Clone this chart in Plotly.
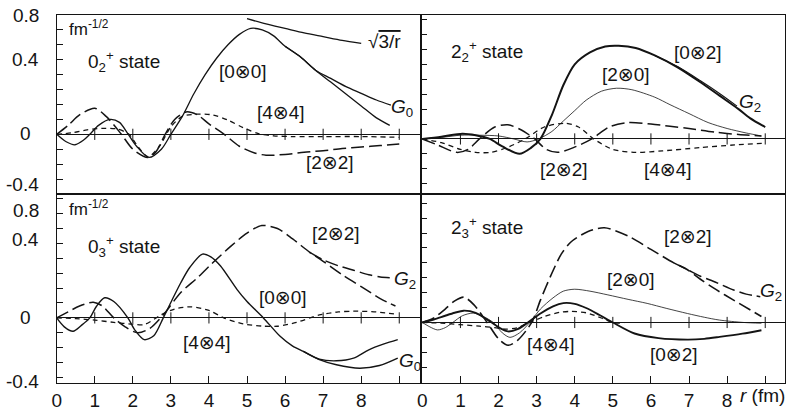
import plotly.graph_objects as go

# ---------------- data ----------------
# Top-left panel: 0_2+ state
tl_00_r = [0, 0.25, 0.48, 0.7, 0.87, 1.1, 1.4, 1.65, 1.88, 2.1, 2.42, 2.75, 3.0, 3.3, 3.6, 3.9, 4.2, 4.5, 4.8, 5.1, 5.4, 5.7, 6.0, 6.4, 6.8, 7.2, 7.6, 8.0, 8.4, 8.75]
tl_00_v = [0, -0.05, -0.07, -0.04, 0, 0.06, 0.10, 0.08, 0.0, -0.08, -0.155, -0.10, 0.0, 0.12, 0.27, 0.40, 0.51, 0.60, 0.67, 0.71, 0.70, 0.66, 0.59, 0.52, 0.43, 0.35, 0.27, 0.19, 0.11, 0.06]
tl_g0_r = [6.0, 6.4, 6.8, 7.2, 7.6, 8.0, 8.4, 8.78]
tl_g0_v = [0.59, 0.52, 0.43, 0.375, 0.32, 0.275, 0.23, 0.195]
tl_22_r = [0, 0.3, 0.6, 1.0, 1.3, 1.7, 2.0, 2.4, 2.6, 2.85, 3.1, 3.4, 3.7, 4.0, 4.4, 4.8, 5.2, 5.5, 6.0, 6.5, 7.0, 7.5, 8.0, 8.5, 9.0]
tl_22_v = [0, 0.06, 0.13, 0.175, 0.12, 0.0, -0.10, -0.155, -0.12, 0.0, 0.10, 0.15, 0.13, 0.07, 0.0, -0.08, -0.125, -0.14, -0.135, -0.12, -0.11, -0.095, -0.085, -0.075, -0.065]
tl_44_r = [0, 0.4, 0.8, 1.2, 1.6, 1.9, 2.1, 2.4, 2.7, 3.0, 3.3, 3.7, 4.1, 4.5, 4.9, 5.3, 5.7, 6.2, 7.0, 8.0, 9.0]
tl_44_v = [0, 0.01, 0.03, 0.04, 0.035, 0.0, -0.07, -0.15, -0.08, 0.05, 0.12, 0.135, 0.13, 0.095, 0.045, 0.005, -0.01, -0.015, -0.015, -0.015, -0.02]
tl_sq_r = [5.0, 5.5, 6.0, 6.5, 7.0, 7.5, 8.0]
tl_sq_v = [0.775, 0.74, 0.71, 0.68, 0.655, 0.63, 0.61]

# Top-right panel: 2_2+ state
tr_02_r = [0, 0.5, 1.05, 1.4, 1.77, 2.1, 2.55, 2.85, 3.1, 3.4, 3.7, 4.0, 4.4, 4.8, 5.15, 5.6, 6.1, 6.7, 7.3, 7.8, 8.3, 8.6, 9.0]
tr_02_v = [0, 0.015, 0.035, 0.025, 0.0, -0.05, -0.10, -0.06, 0.0, 0.16, 0.36, 0.50, 0.58, 0.62, 0.625, 0.61, 0.56, 0.48, 0.38, 0.29, 0.20, 0.14, 0.08]
tr_g2_r = [6.1, 6.7, 7.3, 7.8, 8.26]
tr_g2_v = [0.56, 0.485, 0.39, 0.305, 0.22]
tr_20_r = [0, 0.5, 1.0, 1.5, 2.0, 2.4, 2.75, 3.05, 3.4, 3.7, 4.0, 4.3, 4.7, 5.1, 5.5, 6.1, 6.5, 7.0, 7.5, 8.0, 8.5, 8.9]
tr_20_v = [0, 0.01, 0.025, 0.025, 0.02, 0.0, -0.02, 0.0, 0.05, 0.12, 0.19, 0.26, 0.32, 0.34, 0.33, 0.28, 0.23, 0.17, 0.11, 0.07, 0.04, 0.02]
tr_22_r = [0, 0.4, 0.9, 1.2, 1.5, 1.9, 2.25, 2.6, 2.95, 3.25, 3.55, 3.95, 4.45, 4.9, 5.4, 6.0, 6.5, 7.0, 7.7, 8.3, 8.9]
tr_22_v = [0, -0.04, -0.09, -0.07, 0.0, 0.08, 0.095, 0.06, 0.0, -0.07, -0.09, -0.06, 0.0, 0.08, 0.11, 0.10, 0.085, 0.07, 0.045, 0.03, 0.02]
tr_44_r = [0, 0.5, 1.0, 1.4, 1.8, 2.2, 2.7, 3.2, 3.75, 4.1, 4.5, 5.0, 5.6, 6.3, 7.3, 8.2, 9.0]
tr_44_v = [0, -0.025, -0.07, -0.09, -0.09, -0.06, 0.0, 0.08, 0.105, 0.08, 0.0, -0.07, -0.09, -0.08, -0.058, -0.04, -0.028]

# Bottom-left panel: 0_3+ state
bl_00_r = [0, 0.2, 0.43, 0.65, 0.87, 1.05, 1.26, 1.5, 1.87, 2.05, 2.3, 2.55, 2.8, 3.05, 3.26, 3.5, 3.83, 4.05, 4.3, 4.74, 5.0, 5.43, 5.87, 6.2, 6.48, 6.9, 7.35, 7.8, 8.2, 8.6, 8.96]
bl_00_v = [0, -0.06, -0.09, -0.05, 0.0, 0.08, 0.135, 0.11, 0.0, -0.08, -0.146, -0.12, 0.0, 0.13, 0.236, 0.34, 0.428, 0.41, 0.35, 0.19, 0.11, 0.0, -0.124, -0.19, -0.225, -0.277, -0.288, -0.27, -0.214, -0.175, -0.146]
bl_g0_r = [6.48, 6.9, 7.35, 7.96, 8.48, 8.96]
bl_g0_v = [-0.225, -0.28, -0.315, -0.338, -0.32, -0.27]
bl_22_r = [0, 0.3, 0.6, 0.96, 1.2, 1.5, 1.8, 2.13, 2.45, 2.8, 3.26, 3.7, 4.1, 4.57, 5.0, 5.39, 5.8, 6.2, 6.65, 7.0, 7.5, 8.0, 8.5, 8.9]
bl_22_v = [0, 0.04, 0.08, 0.105, 0.08, 0.0, -0.06, -0.10, -0.07, 0.02, 0.17, 0.27, 0.37, 0.48, 0.57, 0.62, 0.60, 0.53, 0.44, 0.38, 0.29, 0.21, 0.13, 0.08]
bl_g2_r = [6.65, 7.0, 7.4, 7.8, 8.2, 8.5, 8.75]
bl_g2_v = [0.44, 0.39, 0.35, 0.32, 0.29, 0.275, 0.27]
bl_44_r = [0, 0.5, 1.0, 1.5, 2.0, 2.3, 2.74, 3.1, 3.52, 4.0, 4.39, 4.9, 5.4, 5.8, 6.3, 6.9, 7.4, 7.8, 8.4, 8.96]
bl_44_v = [0, -0.005, -0.015, -0.03, -0.042, -0.045, 0.02, 0.06, 0.074, 0.05, 0.0, -0.04, -0.055, -0.056, -0.03, 0.02, 0.04, 0.045, 0.04, 0.023]

# Bottom-right panel: 2_3+ state
br_22_r = [0, 0.3, 0.6, 0.85, 1.09, 1.35, 1.7, 2.0, 2.25, 2.5, 2.87, 3.1, 3.4, 3.65, 3.9, 4.35, 4.78, 5.4, 6.0, 6.6, 6.96, 7.3, 7.65, 8.17, 8.9]
br_22_v = [0, 0.03, 0.09, 0.145, 0.17, 0.12, 0.0, -0.11, -0.153, -0.12, 0.0, 0.15, 0.33, 0.46, 0.54, 0.61, 0.635, 0.58, 0.49, 0.40, 0.354, 0.29, 0.23, 0.15, 0.04]
br_g2_r = [6.6, 6.96, 7.3, 7.65, 8.17, 8.5, 8.87]
br_g2_v = [0.40, 0.354, 0.31, 0.275, 0.218, 0.19, 0.173]
br_20_r = [0, 0.2, 0.4, 0.6, 0.8, 1.05, 1.34, 1.6, 1.86, 2.1, 2.3, 2.55, 2.82, 3.1, 3.43, 3.7, 4.0, 4.4, 4.87, 5.4, 5.9, 6.4, 6.96, 7.4, 7.8, 8.43, 8.9]
br_20_v = [0, -0.03, -0.05, -0.035, 0.0, 0.045, 0.063, 0.04, 0.0, -0.07, -0.1, -0.07, 0.0, 0.09, 0.165, 0.21, 0.223, 0.21, 0.185, 0.155, 0.128, 0.095, 0.06, 0.035, 0.016, 0.0, -0.005]
br_02_r = [0, 0.3, 0.6, 0.85, 1.08, 1.4, 1.82, 2.05, 2.25, 2.5, 2.77, 3.1, 3.43, 3.7, 4.0, 4.3, 4.65, 5.0, 5.57, 6.2, 6.96, 7.4, 7.8, 8.4, 8.9]
br_02_v = [0, 0.02, 0.045, 0.065, 0.079, 0.065, 0.0, -0.04, -0.06, -0.045, 0.0, 0.06, 0.108, 0.13, 0.125, 0.097, 0.05, 0.0, -0.074, -0.105, -0.115, -0.11, -0.097, -0.075, -0.052]
br_44_r = [0, 0.5, 1.0, 1.5, 1.9, 2.2, 2.5, 2.82, 3.2, 3.6, 3.9, 4.3, 4.7, 5.0, 5.3]
br_44_v = [0, -0.005, -0.015, -0.025, -0.035, -0.045, -0.035, 0.0, 0.04, 0.068, 0.074, 0.065, 0.03, 0.0, -0.005]

# ticks
x_tick_vals = [0, 1, 2, 3, 4, 5, 6, 7, 8]
x_tick_text = ["0", "1", "2", "3", "4", "5", "6", "7", "8"]
x_mark_vals = [1, 2, 3, 4, 5, 6, 7, 8, 9]
y_tick_vals = [-0.4, -0.3, -0.2, -0.1, 0.0, 0.1, 0.2, 0.3, 0.4, 0.5, 0.6, 0.7, 0.8]
y_label_text = ["0.8", "0.4", "0", "-0.4"]

# ---------------- styling ----------------
INK = "#141414"
FONT = "Liberation Sans Narrow, Liberation Sans, Arial, sans-serif"
FONT2 = "Liberation Sans, Arial, DejaVu Sans, sans-serif"
LONG = "13px,5px"
SHORT = "5px,4px"

fig = go.Figure()

def add(r, v, ax, width=1.3, dash="solid"):
    fig.add_trace(go.Scatter(
        x=r, y=v, mode="lines", xaxis="x" + ax, yaxis="y" + ax,
        line=dict(color=INK, width=width, dash=dash, shape="spline", smoothing=0.8),
        hoverinfo="skip", showlegend=False))

# top-left
add(tl_00_r, tl_00_v, "", 1.3)
add(tl_g0_r, tl_g0_v, "", 1.3)
add(tl_22_r, tl_22_v, "", 1.5, LONG)
add(tl_44_r, tl_44_v, "", 1.3, SHORT)
add(tl_sq_r, tl_sq_v, "", 1.3)
# top-right
add(tr_02_r, tr_02_v, "2", 2.0)
add(tr_g2_r, tr_g2_v, "2", 1.1)
add(tr_20_r, tr_20_v, "2", 0.8)
add(tr_22_r, tr_22_v, "2", 1.5, LONG)
add(tr_44_r, tr_44_v, "2", 1.3, SHORT)
# bottom-left
add(bl_00_r, bl_00_v, "3", 1.4)
add(bl_g0_r, bl_g0_v, "3", 1.4)
add(bl_22_r, bl_22_v, "3", 1.5, LONG)
add(bl_g2_r, bl_g2_v, "3", 1.5, LONG)
add(bl_44_r, bl_44_v, "3", 1.3, SHORT)
# bottom-right
add(br_22_r, br_22_v, "4", 1.6, LONG)
add(br_g2_r, br_g2_v, "4", 1.5, LONG)
add(br_20_r, br_20_v, "4", 0.8)
add(br_02_r, br_02_v, "4", 1.9)
add(br_44_r, br_44_v, "4", 1.3, SHORT)

# small tick marks on the r-axis (zero line) of every panel
for ax in ["", "2", "3", "4"]:
    fig.add_trace(go.Scatter(
        x=x_mark_vals, y=[0] * len(x_mark_vals), mode="markers",
        xaxis="x" + ax, yaxis="y" + ax,
        marker=dict(symbol="line-ns", size=8, line=dict(width=1, color=INK)),
        hoverinfo="skip", showlegend=False))

# ---------------- axes ----------------
XL = [0.0661, 0.5324]
XR = [0.5324, 0.9975]
YT = [0.5303, 0.9637]
YB = [0.0727, 0.5303]

def xax(dom, rng, labels, anchor):
    d = dict(domain=dom, range=rng, anchor=anchor, showgrid=False, zeroline=False,
             showline=True, mirror=True, linecolor=INK, linewidth=1,
             showticklabels=labels, tickfont=dict(family=FONT, size=19, color=INK))
    if labels:
        d.update(tickvals=x_tick_vals, ticktext=x_tick_text, ticks="inside",
                 ticklen=7, tickcolor=INK,
                 minor=dict(dtick=1, tick0=0, ticks="inside", ticklen=7,
                            tickcolor=INK, showgrid=False))
    else:
        d.update(ticks="")
    return d

def yax(dom, rng, anchor):
    return dict(domain=dom, range=rng, anchor=anchor, showgrid=False,
                zeroline=True, zerolinecolor=INK, zerolinewidth=1,
                showline=True, mirror=True, linecolor=INK, linewidth=1,
                tickvals=y_tick_vals, ticks="inside", ticklen=6, tickcolor=INK,
                showticklabels=False)

fig.update_layout(
    width=787, height=413, margin=dict(l=0, r=0, t=0, b=0),
    paper_bgcolor="white", plot_bgcolor="white",
    xaxis=xax(XL, [0, 9.58], False, "y"),
    yaxis=yax(YT, [-0.4, 0.8], "x"),
    xaxis2=xax(XR, [-0.026, 9.52], False, "y2"),
    yaxis2=yax(YT, [-0.369, 0.831], "x2"),
    xaxis3=xax(XL, [0, 9.58], True, "y3"),
    yaxis3=yax(YB, [-0.437, 0.832], "x3"),
    xaxis4=xax(XR, [-0.026, 9.52], True, "y4"),
    yaxis4=yax(YB, [-0.406, 0.862], "x4"),
)

# y-axis value labels, placed where the reference prints them
H = 413.0
label_px_top = [16, 60, 133, 184]
label_px_bot = [210, 240, 317, 381]
for txt, py in zip(y_label_text + y_label_text, label_px_top + label_px_bot):
    xr = 28 if txt == "0" else 36
    fig.add_annotation(text=txt, x=xr / 787.0, y=1 - py / H, xref="paper", yref="paper",
                       showarrow=False, xanchor="right", yanchor="middle",
                       font=dict(family=FONT, size=19, color=INK))

def note(text, ax, x, y, size=19, xanchor="center", family=FONT2):
    fig.add_annotation(text=text, x=x, y=y, xref="x" + ax, yref="y" + ax,
                       showarrow=False, xanchor=xanchor, yanchor="middle",
                       font=dict(family=family, size=size, color=INK))

# top-left
note("fm<sup>-1/2</sup>", "", 0.26, 0.71, 17, "left")
note("0<sub>2</sub><sup>+</sup> state", "", 0.78, 0.485, 19, "left")
note("[0\u22970]", "", 4.9, 0.418)
note("\u221a<span style='text-decoration:overline'>3/r</span>", "", 8.61, 0.62)
note("<i>G</i><sub>0</sub>", "", 9.08, 0.176)
note("[4\u22974]", "", 5.9, 0.143)
note("[2\u22972]", "", 7.17, -0.19)
# top-right
note("2<sub>2</sub><sup>+</sup> state", "2", 0.7, 0.584, 19, "left")
note("[0\u22972]", "2", 7.23, 0.58)
note("[2\u22970]", "2", 5.35, 0.43)
note("<i>G</i><sub>2</sub>", "2", 8.61, 0.24)
note("[2\u22972]", "2", 3.73, -0.208)
note("[4\u22974]", "2", 6.44, -0.208)
# bottom-left
note("fm<sup>-1/2</sup>", "3", 0.26, 0.74, 17, "left")
note("0<sub>3</sub><sup>+</sup> state", "3", 0.78, 0.48, 19, "left")
note("[2\u22972]", "3", 7.33, 0.57)
note("<i>G</i><sub>2</sub>", "3", 9.16, 0.255)
note("[0\u22970]", "3", 5.95, 0.14)
note("[4\u22974]", "3", 3.94, -0.168)
note("<i>G</i><sub>0</sub>", "3", 9.29, -0.295)
# bottom-right
note("2<sub>3</sub><sup>+</sup> state", "4", 0.7, 0.634, 19, "left")
note("[2\u22972]", "4", 6.97, 0.574)
note("[2\u22970]", "4", 5.48, 0.285)
note("<i>G</i><sub>2</sub>", "4", 9.5, 0.205, 19, "right")
note("[4\u22974]", "4", 3.39, -0.15)
note("[0\u22972]", "4", 6.6, -0.218)

fig.add_annotation(text="<i>r</i> (fm)", x=1.0, y=1 - 395 / H, xref="paper", yref="paper",
                   showarrow=False, xanchor="right", yanchor="middle",
                   font=dict(family=FONT, size=19, color=INK))

fig.write_html("out.html", config={"displayModeBar": False},
               post_script="document.body.style.margin='0';document.body.style.overflow='hidden';")
